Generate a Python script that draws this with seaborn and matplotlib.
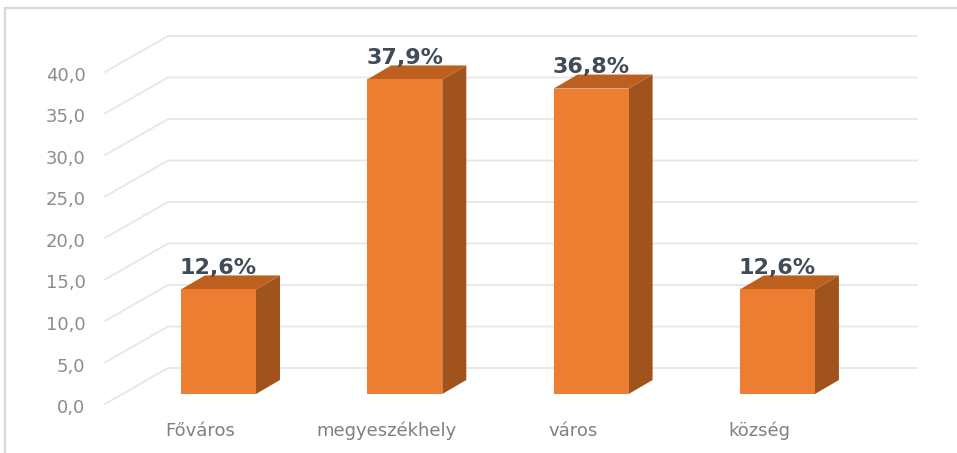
import matplotlib
matplotlib.use("Agg")
import matplotlib.pyplot as plt
from matplotlib.lines import Line2D
from matplotlib.transforms import ScaledTranslation
import seaborn as sns
import pandas as pd

categories = ["Főváros", "megyeszékhely", "város", "község"]
values = [12.6, 37.9, 36.8, 12.6]
bar_labels = ["12,6%", "37,9%", "36,8%", "12,6%"]
y_ticks = [0, 5, 10, 15, 20, 25, 30, 35, 40]
y_tick_labels = ["0,0", "5,0", "10,0", "15,0", "20,0", "25,0", "30,0", "35,0", "40,0"]

W, H = 957, 453
DPI = 100
sns.set_theme(style="white")
plt.rcParams["font.family"] = ["DejaVu Sans"]

fig = plt.figure(figsize=(W / DPI, H / DPI), dpi=DPI, facecolor="white")

# pixel geometry of the pseudo-3D plot
left, right, base, top = 105, 917, 394, 30
px_per_unit = 8.3
cat0_px, cat_step = 218.5, 186.3
ax = fig.add_axes([left / W, 1 - base / H, (right - left) / W, (base - top) / H])
ax.patch.set_alpha(0)

df = pd.DataFrame({"cat": categories, "val": values})
sns.barplot(data=df, x="cat", y="val", ax=ax, color="#ED7D31", saturation=1,
            width=75 / cat_step, zorder=5, linewidth=0)
ax.set_xlim((left - cat0_px) / cat_step, (right - cat0_px) / cat_step)
ax.set_ylim(0, (base - top) / px_per_unit)
ax.set_xlabel("")
ax.set_ylabel("")
sns.despine(ax=ax, left=True, bottom=True)

# depth of the box and of the floor, in data units
dx = 24 / cat_step
dy = 14 / px_per_unit
wall_dx = 63 / cat_step
front_off = -10 / px_per_unit
back_off = 26 / px_per_unit
x0, x1 = ax.get_xlim()

for t in y_ticks:
    ax.plot([x0, x0 + wall_dx, x1], [t + front_off, t + back_off, t + back_off],
            color="#e8e8e8", lw=1.4, zorder=1, clip_on=False)

for bar in ax.patches:
    bx0, bx1 = bar.get_x(), bar.get_x() + bar.get_width()
    h = bar.get_height()
    ax.fill([bx1, bx1 + dx, bx1 + dx, bx1], [0, dy, h + dy, h],
            color="#A0531C", lw=0, zorder=4)
    ax.fill([bx0, bx0 + dx, bx1 + dx, bx1], [h, h + dy, h + dy, h],
            color="#BD5F1E", lw=0, zorder=4)

ax.bar_label(ax.containers[0], labels=bar_labels, padding=8.5, zorder=8,
             fontsize=16, fontweight="bold", color="#414B57")

ax.tick_params(axis="both", length=0)
ax.set_yticks(y_ticks, y_tick_labels)
ax.set_xticks(range(len(categories)), categories)
ax.tick_params(axis="y", pad=14, labelsize=13, labelcolor="#8c8c8c")
ax.tick_params(axis="x", pad=20, labelsize=13, labelcolor="#808080")
y_shift = ScaledTranslation(0, -12 / DPI, fig.dpi_scale_trans)
x_shift = ScaledTranslation(-18 / DPI, 0, fig.dpi_scale_trans)
for lab in ax.get_yticklabels():
    lab.set_transform(lab.get_transform() + y_shift)
for lab in ax.get_xticklabels():
    lab.set_transform(lab.get_transform() + x_shift)

# frame of the pasted chart
frame = "#d8d8d8"
fig.add_artist(Line2D([5 / W, 5 / W], [0, 1 - 8 / H], color=frame, lw=1.6))
fig.add_artist(Line2D([5 / W, 1], [1 - 8 / H, 1 - 8 / H], color=frame, lw=1.6))

fig.savefig("out.png", dpi=DPI)
